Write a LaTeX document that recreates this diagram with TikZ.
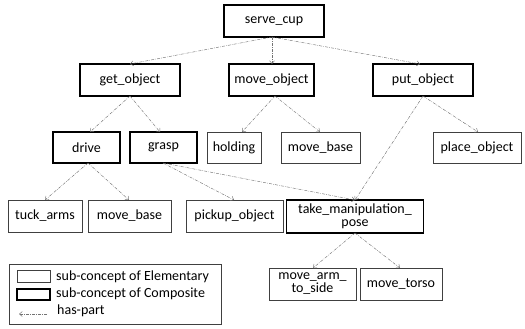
\documentclass[tikz,border=0pt]{standalone}
\usepackage{fontspec}
\setmainfont{Carlito}
\usetikzlibrary{arrows.meta}
\begin{document}
\begin{tikzpicture}[x=1pt,y=-1pt,
  lbl/.style={font=\fontsize{14}{13}\selectfont},
  elem/.style={lbl,draw=black!75,line width=0.7pt,minimum height=32pt,inner sep=1pt,align=center},
  comp/.style={lbl,draw=black,line width=1.8pt,minimum height=32pt,inner sep=1pt,align=center},
  haspart/.style={draw=black!55,line width=0.45pt,dash pattern=on 3pt off 1.2pt on 0.6pt off 1.2pt,-{Straight Barb[length=3pt,width=5pt]}}]
\useasboundingbox (0,0) rectangle (525,329);
\node[comp,minimum width=100pt] (serve) at (274,21) {serve\_cup};
\node[comp,minimum width=100pt] (get) at (130,80) {get\_object};
\node[comp,minimum width=85pt] (move) at (271.5,80) {move\_object};
\node[comp,minimum width=100pt] (put) at (423,80) {put\_object};
\node[comp,minimum width=67pt,minimum height=31pt] (drive) at (86.5,147.5) {drive};
\node[comp,minimum width=67pt,minimum height=31pt] (grasp) at (163.5,147.5) {grasp};
\node[elem,minimum width=54pt,minimum height=31pt] (holding) at (234,147.5) {holding};
\node[elem,minimum width=79pt,minimum height=31pt] (mbase1) at (320.5,147.5) {move\_base};
\node[elem,minimum width=88pt,minimum height=31pt] (place) at (477,147.5) {place\_object};
\node[elem,minimum width=74pt] (tuck) at (45,216) {tuck\_arms};
\node[elem,minimum width=83pt] (mbase2) at (129.5,216) {move\_base};
\node[elem,minimum width=97pt] (pickup) at (234.5,216) {pickup\_object};
\node[comp,minimum width=137pt,minimum height=33pt,inner sep=0pt] (take) at (355,216.5) {take\_manipulation\_\\pose};
\node[elem,minimum width=87pt,inner sep=0pt] (arm) at (312.5,284) {move\_arm\_\\to\_side};
\node[elem,minimum width=82pt] (torso) at (401,284) {move\_torso};
\draw[haspart] (272,37) -- (272,64);
\draw[haspart] (272,37) -- (130,64);
\draw[haspart] (272,37) -- (420,64);
\draw[haspart] (130,96) -- (90,132);
\draw[haspart] (130,96) -- (160,132);
\draw[haspart] (275,96) -- (242,132);
\draw[haspart] (275,96) -- (320,132);
\draw[haspart] (423,96) -- (478,132);
\draw[haspart] (423,96) -- (355,200);
\draw[haspart] (88,163) -- (45,200);
\draw[haspart] (88,163) -- (129,200);
\draw[haspart] (163,163) -- (234,200);
\draw[haspart] (163,163) -- (355,200);
\draw[haspart] (355,233) -- (313,268);
\draw[haspart] (355,233) -- (400,268);
% legend
\node[draw=black!75,line width=0.7pt,minimum width=212pt,minimum height=60pt,inner sep=0pt] (legend) at (115,294) {};
\node[draw=black!75,line width=0.7pt,minimum width=33pt,minimum height=12pt,inner sep=0pt] (lelem) at (33.5,276) {};
\node[draw=black,line width=1.8pt,minimum width=33pt,minimum height=11pt,inner sep=0pt] (lcomp) at (33.5,294.5) {};
\node[lbl,anchor=west,inner sep=0pt] at (56,277) {sub-concept of Elementary};
\node[lbl,anchor=west,inner sep=0pt] at (56,294) {sub-concept of Composite};
\node[lbl,anchor=west,inner sep=0pt] (hp) at (57,311) {has-part};
\coordinate (ha) at (47,314);
\coordinate (hb) at (19,314);
\draw[haspart] (ha) -- (hb);
\end{tikzpicture}
\end{document}
